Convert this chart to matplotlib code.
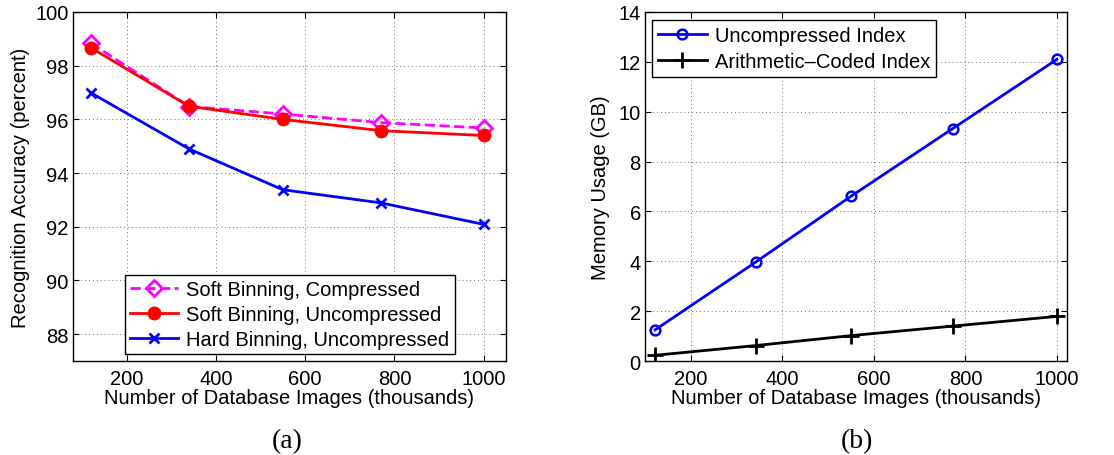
import numpy as np
import matplotlib.pyplot as plt

plt.rcParams['font.family'] = ['Liberation Sans', 'DejaVu Sans']

# database sizes (thousands of images)
n_images = [120, 340, 550, 770, 1000]

# (a) recognition accuracy (percent)
soft_compressed = [98.84, 96.48, 96.2, 95.88, 95.68]
soft_uncompressed = [98.67, 96.49, 96.0, 95.58, 95.4]
hard_uncompressed = [96.99, 94.9, 93.38, 92.89, 92.09]

# (b) memory usage (GB)
n_images_b = [122, 342, 551, 772, 1000]
mem_uncompressed = [1.25, 3.97, 6.62, 9.32, 12.1]
mem_arith = [0.23, 0.62, 1.02, 1.4, 1.79]

fig = plt.figure(figsize=(11.14, 4.56), dpi=100)
ax1 = fig.add_axes([0.0655, 0.2061, 0.3887, 0.7654])
ax2 = fig.add_axes([0.579, 0.2061, 0.3788, 0.7654])

FS = 14.5


def style(ax):
    ax.grid(True, linestyle=(0, (1, 3)), color='black', linewidth=0.7, alpha=0.55)
    ax.tick_params(direction='in', top=True, right=True, labelsize=FS,
                   length=4, width=0.8)
    ax.tick_params(axis='x', pad=6)
    ax.tick_params(axis='y', pad=3)
    for s in ax.spines.values():
        s.set_linewidth(1.0)
    ax.set_xticks([200, 400, 600, 800, 1000])
    ax.set_xlabel('Number of Database Images (thousands)', fontsize=FS, labelpad=0)


ax1.plot(n_images, soft_compressed, '--', color='magenta', lw=2,
         marker='D', ms=8, mfc='none', mec='magenta', mew=2,
         label='Soft Binning, Compressed')
ax1.plot(n_images, soft_uncompressed, '-', color='red', lw=2,
         marker='o', ms=9, mfc='red', mec='red',
         label='Soft Binning, Uncompressed')
ax1.plot(n_images, hard_uncompressed, '-', color='blue', lw=2,
         marker='x', ms=7, mew=2, label='Hard Binning, Uncompressed')
ax1.set_xlim(80, 1050)
ax1.set_ylim(87, 100)
ax1.set_yticks([88, 90, 92, 94, 96, 98, 100])
style(ax1)
ax1.set_ylabel('Recognition Accuracy (percent)', fontsize=FS, labelpad=4)
ax1.legend(loc='lower left', bbox_to_anchor=(0.12, 0.02), fontsize=FS,
           fancybox=False, edgecolor='black', framealpha=1,
           handlelength=2.4, borderpad=0.25, labelspacing=0.3,
           handletextpad=0.4, borderaxespad=0)

ax2.plot(n_images_b, mem_uncompressed, '-', color='blue', lw=2,
         marker='o', ms=7, mfc='none', mec='blue', mew=1.8,
         label='Uncompressed Index')
ax2.plot(n_images_b, mem_arith, '-', color='black', lw=2,
         marker='+', ms=11, mew=2, label='Arithmetic\u2013Coded Index')
ax2.set_xlim(100, 1022)
ax2.set_ylim(0, 14)
ax2.set_yticks(np.arange(0, 15, 2))
style(ax2)
ax2.set_ylabel('Memory Usage (GB)', fontsize=FS, labelpad=6)
ax2.legend(loc='upper left', bbox_to_anchor=(0.017, 0.977), fontsize=FS,
           fancybox=False, edgecolor='black', framealpha=1,
           handlelength=2.4, borderpad=0.3, labelspacing=0.35,
           handletextpad=0.4, borderaxespad=0)

fig.text(287 / 1114, 1 - 442 / 456, '(a)', ha='center', va='center',
         fontsize=20, family='Liberation Serif')
fig.text(857 / 1114, 1 - 442 / 456, '(b)', ha='center', va='center',
         fontsize=20, family='Liberation Serif')

fig.savefig('out.png', dpi=100)
